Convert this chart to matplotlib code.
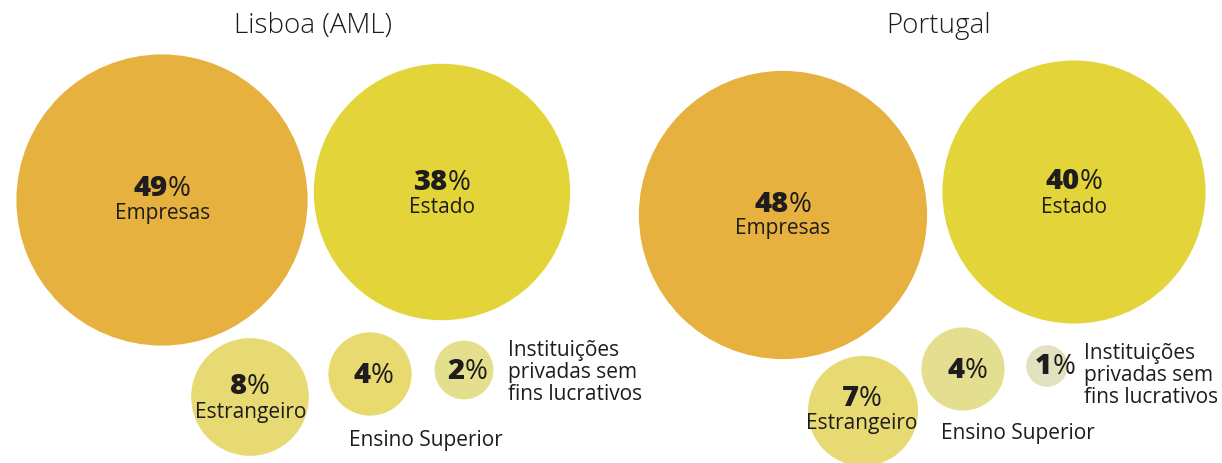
import numpy as np
import matplotlib
matplotlib.use('Agg')
import matplotlib.pyplot as plt
from matplotlib.patches import Circle

plt.rcParams['font.family'] = ['Open Sans', 'DejaVu Sans']

# Fontes de financiamento da I&D (%)
categorias = ['Empresas', 'Estado', 'Estrangeiro', 'Ensino Superior',
              'Instituições\nprivadas sem\nfins lucrativos']
lisboa = [49, 38, 8, 4, 2]
portugal = [48, 40, 7, 4, 1]

cores_lisboa = ['#E6B13E', '#E3D43A', '#E8DA72', '#E8DA6E', '#E4DF8C']
cores_portugal = ['#E6B13E', '#E3D43A', '#E8DA72', '#E4DF90', '#E2E2C0']

INK = '#1E1C1C'
ESCALA = 20.8  # raio em px por sqrt(%)

# posições (px): centro do círculo, linha do número, etiqueta (x, y, ha, va)
layout_lisboa = {
    'titulo': (313, 33),
    'centros': [(162, 201), (442, 193), (250, 398), (370, 375), (464, 371)],
    'numeros': [(162, 196), (442, 190), (250, 394), (373, 383), (467, 379)],
    'etiquetas': [(163, 219, 'center', 'baseline'), (442, 213, 'center', 'baseline'),
                  (251, 418, 'center', 'baseline'), (426, 446, 'center', 'baseline'),
                  (508, 340, 'left', 'top')],
}
layout_portugal = {
    'titulo': (939, 33),
    'centros': [(783, 216), (1074, 193), (863, 412), (963, 370), (1047, 367)],
    'numeros': [(783, 212), (1074, 189), (862, 406), (967, 378), (1055, 374)],
    'etiquetas': [(783, 234, 'center', 'baseline'), (1074, 213, 'center', 'baseline'),
                  (862, 429, 'center', 'baseline'), (1018, 439, 'center', 'baseline'),
                  (1084, 343, 'left', 'top')],
}

fig = plt.figure(figsize=(12.22, 4.64), dpi=100)
ax = fig.add_axes([0, 0, 1, 1])
ax.set_xlim(0, 1222)
ax.set_ylim(464, 0)
ax.axis('off')

pares = []


def desenha(titulo, valores, cores, lay):
    ax.text(*lay['titulo'], titulo, fontsize=20, fontweight='light',
            ha='center', va='baseline', color=INK)
    for i, v in enumerate(valores):
        cx, cy = lay['centros'][i]
        ax.add_patch(Circle((cx, cy), ESCALA * np.sqrt(v), color=cores[i], lw=0))
        nx, ny = lay['numeros'][i]
        num = ax.text(nx, ny, str(v), fontsize=21, fontweight='heavy',
                      ha='center', va='baseline', color=INK)
        pct = ax.annotate('%', xy=(1, 0), xycoords=num, fontsize=20,
                          ha='left', va='bottom', color=INK)
        pares.append((num, pct))
        ex, ey, ha, va = lay['etiquetas'][i]
        ax.text(ex, ey, categorias[i], fontsize=15, fontweight='medium',
                ha=ha, va=va, color=INK, linespacing=1.05)


desenha('Lisboa (AML)', lisboa, cores_lisboa, layout_lisboa)
desenha('Portugal', portugal, cores_portugal, layout_portugal)

# centrar o conjunto número + "%"
fig.canvas.draw()
renderer = fig.canvas.get_renderer()
for num, pct in pares:
    w = pct.get_window_extent(renderer).width
    x, y = num.get_position()
    num.set_x(x - w / 2)

fig.savefig('out.png', dpi=100)
